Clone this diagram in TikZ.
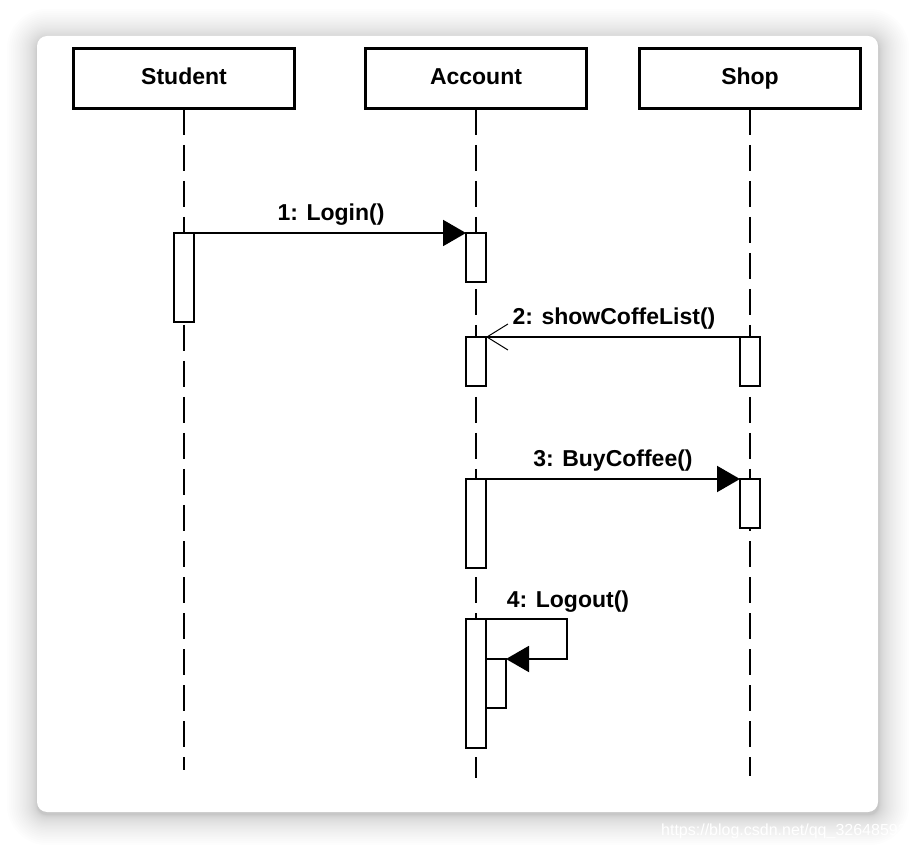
\documentclass[tikz,border=0pt]{standalone}
\usepackage{fontspec}
\setmainfont{Liberation Sans}
\usetikzlibrary{arrows.meta}
\begin{document}
\begin{tikzpicture}[x=1pt,y=-1pt,
  head/.style={draw, line width=3pt, fill=white, minimum width=221pt, minimum height=60pt,
    inner sep=0pt, outer sep=0pt, text height=17pt, text depth=5pt,
    font=\fontsize{23}{27}\selectfont\bfseries},
  act/.style={draw, line width=2pt, fill=white, minimum width=20pt, inner sep=0pt, outer sep=0pt},
  life/.style={line width=2pt, dash pattern=on 26pt off 10pt},
  msg/.style={line width=2pt},
  lbl/.style={font=\fontsize{23}{27}\selectfont\bfseries, anchor=base, inner sep=0pt},
  sync/.style={-{Triangle[length=23pt,width=26pt]}},
  reply/.style={-{Straight Barb[length=21pt,width=26pt,line width=1pt]}}
]
% background and card
\fill[white] (0,0) rectangle (914,850);
\useasboundingbox (0,0) rectangle (914,850);
\foreach \i in {1,...,28}{
  \pgfmathsetmacro\ee{\i*\i/26}
  \pgfmathsetmacro\rr{10+\ee}
  \fill[black, fill opacity=0.008, rounded corners=\rr pt] (37-\ee,39-\ee) rectangle (879+\ee,815+\ee);
}
\fill[white, rounded corners=10pt] (37,36) rectangle (878,812);
\begin{scope}
\clip (0,0) rectangle (914,850);
\node[anchor=base west, text=white, font=\fontsize{16}{19}\selectfont, inner sep=0pt] (wm) at (661,835) {https://blog.csdn.net/qq\_32648593};
\end{scope}

% lifeline heads
\node[head] (stu) at (184,79) {Student};
\node[head] (acc) at (476,79) {Account};
\node[head] (shop) at (750,79) {Shop};

% lifeline ends
\coordinate (stuEnd) at (184,770);
\coordinate (accEnd) at (476,778);
\coordinate (shopEnd) at (750,776);
\draw[life] (stu.south) -- (stuEnd);
\draw[life] (acc.south) -- (accEnd);
\draw[life] (shop.south) -- (shopEnd);

% activations
\node[act, minimum height=89pt] (sa) at (184,277.5) {};
\node[act, minimum height=49pt] (a1) at (476,257.5) {};
\node[act, minimum height=49pt] (a2) at (476,361.5) {};
\node[act, minimum height=49pt] (s2) at (750,361.5) {};
\node[act, minimum height=89pt] (a3) at (476,523.5) {};
\node[act, minimum height=49pt] (s3) at (750,503.5) {};
\node[act, minimum height=129pt] (a4) at (476,683.5) {};
\node[act, minimum height=49pt] (a4n) at (496,683.5) {};

% messages
\draw[msg, sync] (sa.north east) -- (a1.north west);
\node[lbl] (l1) at (331,221) {1: Login()};

\draw[msg, reply] (s2.north west) -- (a2.north east);
\node[lbl] (l2) at (614,325) {2: showCoffeList()};

\draw[msg, sync] (a3.north east) -- (s3.north west);
\node[lbl] (l3) at (613,467) {3: BuyCoffee()};

\coordinate (loop) at (567,619);
\draw[msg, sync] (a4.north east) -- (loop) |- (a4n.north east);
\node[lbl] (l4) at (568,607) {4: Logout()};
\end{tikzpicture}
\end{document}
